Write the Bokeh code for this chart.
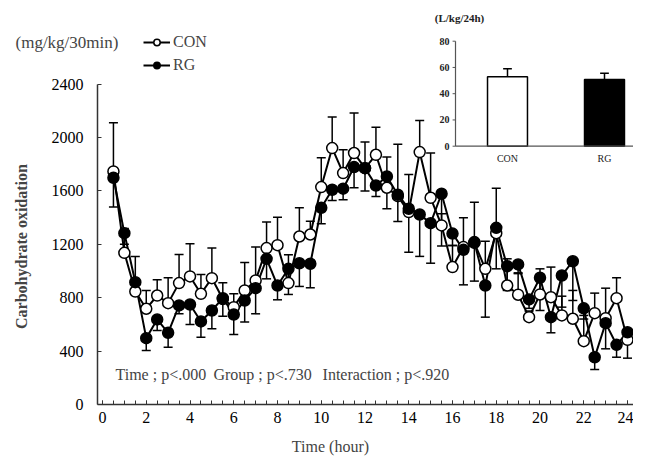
import math
from bokeh.plotting import figure
from bokeh.models import (Range1d, FixedTicker, SingleIntervalTicker, Whisker, TeeHead,
                          ColumnDataSource, Legend, LegendItem, Label)
from bokeh.core.properties import value
from bokeh.embed import file_html
from bokeh.resources import INLINE

# ---------------- data ----------------
hours = [0.5, 1.0, 1.5, 2.0, 2.5, 3.0, 3.5, 4.0, 4.5, 5.0, 5.5, 6.0,
         6.5, 7.0, 7.5, 8.0, 8.5, 9.0, 9.5, 10.0, 10.5, 11.0, 11.5, 12.0,
         12.5, 13.0, 13.5, 14.0, 14.5, 15.0, 15.5, 16.0, 16.5, 17.0, 17.5, 18.0,
         18.5, 19.0, 19.5, 20.0, 20.5, 21.0, 21.5, 22.0, 22.5, 23.0, 23.5, 24.0]

con = [1745, 1136, 846, 717, 816, 759, 909, 959, 829, 946, 790, 729,
       854, 929, 1171, 1193, 909, 1258, 1273, 1628, 1920, 1733, 1883, 1770,
       1870, 1623, 1560, 1441, 1890, 1548, 1341, 1029, 1179, 1210, 1016, 1283,
       891, 822, 654, 824, 804, 667, 642, 474, 684, 646, 796, 484]
con_hi = [2110, 1318, 1108, 854, 934, 949, 1124, 1204, 974, 1171, 911, 829,
          1064, 1179, 1366, 1403, 1121, 1473, 1373, 1848, 2152, 1908, 2182, 1965,
          2077, 1853, 1948, 1723, 2127, 1883, 1428, 1191, 1398, 1515, 1223, 1620,
          1091, 986, 700, 1016, 1029, 811, 854, 667, 834, 871, 949, 560]

rg = [1698, 1283, 916, 497, 637, 537, 742, 749, 622, 704, 796, 674,
      779, 871, 1091, 891, 1016, 1058, 1054, 1473, 1608, 1616, 1778, 1770,
      1640, 1708, 1571, 1466, 1423, 1358, 1578, 1280, 1158, 1216, 891, 1323,
      1036, 1049, 787, 949, 654, 966, 1073, 720, 354, 609, 447, 541]
rg_lo = [1478, 1200, 850, 404, 554, 429, 680, 599, 504, 567, 661, 524,
         617, 679, 941, 784, 824, 884, 874, 1353, 1528, 1533, 1623, 1598,
         1558, 1466, 1371, 1141, 1109, 1058, 1186, 1191, 896, 924, 654, 1016,
         854, 980, 720, 704, 537, 729, 779, 640, 262, 417, 354, 347]

y_ticks = [0, 400, 800, 1200, 1600, 2000, 2400]
series_names = ["CON", "RG"]
stat_texts = ["Time ; p<.000", "Group ; p<.730", "Interaction ; p<.920"]

# inset (24h total)
bar_cats = ["CON", "RG"]
bar_pos = [1, 2]
bar_vals = [53.0, 50.8]
bar_hi = [59.0, 55.6]
inset_ticks = [0, 20, 40, 60, 80]

FONT = "Liberation Serif"
AX = "#333333"

# ---------------- figure (frame covers the whole canvas; axes at fixed locations) ----------------
X0, X1 = -0.2286, 24.2743          # visible extent of the time axis
p = figure(width=633, height=459, x_range=Range1d(-4.6629, 24.2743), y_range=Range1d(-411.9, 3025.3),
           output_backend="svg", toolbar_location=None, title=None,
           min_border_left=0, min_border_right=0, min_border_top=0, min_border_bottom=0)
p.outline_line_color = None
p.grid.visible = False
p.background_fill_color = "white"

p.xaxis.ticker = SingleIntervalTicker(interval=2, num_minor_ticks=4)
p.yaxis.ticker = FixedTicker(ticks=y_ticks)
p.xaxis.fixed_location = 0
p.yaxis.fixed_location = X0
p.xaxis.bounds = (X0, X1)
p.yaxis.bounds = (0, 2400)
for ax in (p.xaxis[0], p.yaxis[0]):
    ax.axis_line_color = AX
    ax.axis_line_width = 1.5
    ax.major_tick_line_color = AX
    ax.major_tick_line_width = 1
    ax.major_tick_in = 4
    ax.major_tick_out = 0
    ax.major_label_text_font = FONT
    ax.major_label_text_font_size = "16px"
    ax.major_label_text_color = "black"
p.xaxis.minor_tick_in = 4
p.xaxis.minor_tick_out = 0
p.xaxis.minor_tick_line_color = AX
p.yaxis.minor_tick_line_color = None
p.yaxis.major_label_standoff = 14
p.xaxis.major_label_standoff = 8

# error bars (CON upward, RG downward)
src_con = ColumnDataSource(dict(x=hours, y=con, hi=con_hi))
src_rg = ColumnDataSource(dict(x=hours, y=rg, lo=rg_lo))
p.add_layout(Whisker(source=src_con, base="x", upper="hi", lower="y", dimension="height",
                     upper_head=TeeHead(size=9, line_width=1.5, line_color="black"),
                     lower_head=None, line_width=1.5, line_color="black", level="underlay"))
p.add_layout(Whisker(source=src_rg, base="x", upper="y", lower="lo", dimension="height",
                     lower_head=TeeHead(size=9, line_width=1.5, line_color="black"),
                     upper_head=None, line_width=1.5, line_color="black", level="underlay"))

con_line = p.line(hours, con, line_color="black", line_width=2)
rg_line = p.line(hours, rg, line_color="black", line_width=2)
con_pts = p.scatter(hours, con, marker="circle", size=11, fill_color="white",
                    line_color="black", line_width=1.5)
rg_pts = p.scatter(hours, rg, marker="circle", size=11, fill_color="black",
                   line_color="black", line_width=1.5)

legend = Legend(items=[LegendItem(label=series_names[0], renderers=[con_line, con_pts]),
                       LegendItem(label=series_names[1], renderers=[rg_line, rg_pts])],
                location=(143, 385), padding=0, margin=0, spacing=5,
                glyph_width=27, glyph_height=16, label_height=16, label_standoff=3,
                label_text_font=FONT, label_text_font_size="16px",
                border_line_color=None, background_fill_alpha=0)
p.add_layout(legend)

# texts
p.add_layout(Label(x=-3.977, y=2711, text="(mg/kg/30min)", text_font=FONT,
                   text_font_size="17px", text_baseline="middle", text_align="left"))
p.add_layout(Label(x=-3.703, y=1183, text="Carbohydrate oxidation", angle=math.pi / 2,
                   text_font=FONT, text_font_size="16px", text_font_style="bold",
                   text_baseline="middle", text_align="center"))
p.add_layout(Label(x=10.42, y=-314, text="Time (hour)", text_font=FONT,
                   text_font_size="16px", text_baseline="middle", text_align="center"))
stat_x = [0.594, 5.07, 10.06]
for sx, t in zip(stat_x, stat_texts):
    p.add_layout(Label(x=sx, y=225, text=t, text_font=FONT, text_font_size="16px",
                       text_baseline="middle", text_align="left"))

# ---------------- inset ----------------
p.extra_x_ranges = {"ix": Range1d(-4.2268, 2.299)}
p.extra_y_ranges = {"iy": Range1d(-238.7, 111.01)}
ax_x = 0.464
kw = dict(x_range_name="ix", y_range_name="iy")
p.vbar(x=bar_pos, top=bar_vals, bottom=0, width=0.412, fill_color=["white", "black"],
       line_color="black", line_width=1.5, **kw)
p.segment(x0=bar_pos, y0=bar_vals, x1=bar_pos, y1=bar_hi, line_color="black", line_width=1.5, **kw)
p.segment(x0=[b - 0.045 for b in bar_pos], y0=bar_hi, x1=[b + 0.045 for b in bar_pos], y1=bar_hi,
          line_color="black", line_width=1.5, **kw)
p.segment(x0=[ax_x, ax_x], y0=[0, 0], x1=[ax_x, 2.4], y1=[inset_ticks[-1], 0],
          line_color="#555555", line_width=1.2, **kw)
p.segment(x0=[ax_x - 0.03] * len(inset_ticks), y0=inset_ticks, x1=[ax_x] * len(inset_ticks),
          y1=inset_ticks, line_color="#555555", line_width=1, **kw)
p.text(x=[ax_x] * len(inset_ticks), y=inset_ticks, text=[str(t) for t in inset_ticks],
       x_offset=-6, text_align="right", text_baseline="middle", text_font=value(FONT),
       text_font_size="10px", text_font_style="bold", text_color="#222222", **kw)
p.text(x=bar_pos, y=[-9.4, -9.4], text=bar_cats, text_align="center", text_baseline="middle",
       text_font=value(FONT), text_font_size="10px", text_color="#222222", **kw)
p.text(x=[0.505], y=[97.3], text=["(L/kg/24h)"], text_align="center", text_baseline="middle",
       text_font=value(FONT), text_font_size="11px", text_font_style="bold",
       text_color="#222222", **kw)

open("out.html", "w").write(file_html(p, INLINE))
